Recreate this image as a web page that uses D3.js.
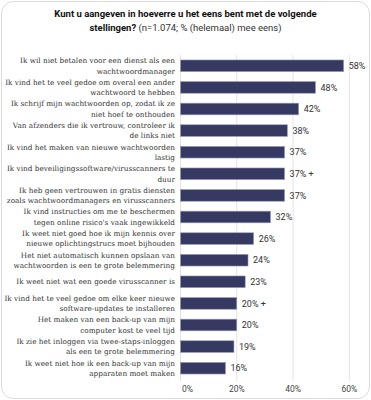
<!DOCTYPE html>
<html>
<head>
<meta charset="utf-8">
<script src="https://cdn.jsdelivr.net/npm/d3@7"></script>
<style>
  body { margin: 0; background: #fff; }
</style>
</head>
<body>
<div id="chart"></div>
<script>
const width = 371
const height = 400

// statements (line breaks as in the original)
const categories = [
    "Ik wil niet betalen voor een dienst als een\nwachtwoordmanager",
    "Ik vind het te veel gedoe om overal een ander\nwachtwoord te hebben",
    "Ik schrijf mijn wachtwoorden op, zodat ik ze\nniet hoef te onthouden",
    "Van afzenders die ik vertrouw, controleer ik\nde links niet",
    "Ik vind het maken van nieuwe wachtwoorden\nlastig",
    "Ik vind beveiligingssoftware/virusscanners te\nduur",
    "Ik heb geen vertrouwen in gratis diensten\nzoals wachtwoordmanagers en virusscanners",
    "Ik vind instructies om me te beschermen\ntegen online risico's vaak ingewikkeld",
    "Ik weet niet goed hoe ik mijn kennis over\nnieuwe oplichtingstrucs moet bijhouden",
    "Het niet automatisch kunnen opslaan van\nwachtwoorden is een te grote belemmering",
    "Ik weet niet wat een goede virusscanner is",
    "Ik vind het te veel gedoe om elke keer nieuwe\nsoftware-updates te installeren",
    "Het maken van een back-up van mijn\ncomputer kost te veel tijd",
    "Ik zie het inloggen via twee-staps-inloggen\nals een te grote belemmering",
    "Ik weet niet hoe ik een back-up van mijn\napparaten moet maken"
]
const values = [58, 48, 42, 38, 37, 37, 37, 32, 26, 24, 23, 20, 20, 19, 16]
const marks = ["", "", "", "", "", "+", "", "", "", "", "", "+", "", "", ""]
const ticks = [0, 20, 40, 60]

const svg = d3.select("#chart")
    .append("svg")
    .attr("width", width)
    .attr("height", height)

// card
svg.append("rect")
    .attr("x", 1.5).attr("y", 1.5)
    .attr("width", width - 3).attr("height", height - 3)
    .attr("rx", 12)
    .attr("fill", "#fff")
    .attr("stroke", "#dcdcdc")

// title
const title = svg.append("text")
    .attr("text-anchor", "middle")
    .attr("font-family", "Roboto, sans-serif")
    .attr("font-size", 9.5)
    .attr("fill", "#111")
title.append("tspan")
    .attr("x", width / 2).attr("y", 17)
    .attr("font-weight", "bold")
    .text("Kunt u aangeven in hoeverre u het eens bent met de volgende")
const t2 = title.append("tspan").attr("x", width / 2).attr("y", 31)
t2.append("tspan").attr("font-weight", "bold").text("stellingen?")
t2.append("tspan").attr("fill", "#333").text(" (n=1.074; % (helemaal) mee eens)")

const x = d3.scaleLinear()
    .domain([0, 60])
    .range([180.5, 349.3])

const y = d3.scaleBand()
    .domain(categories)
    .range([55, 379])
    .paddingInner(0.46)
    .paddingOuter(0.23)

// grid
svg.append("g")
    .selectAll("line")
    .data(ticks)
    .enter()
    .append("line")
    .attr("x1", d => x(d)).attr("x2", d => x(d))
    .attr("y1", 55).attr("y2", 381)
    .attr("stroke", "#e3e3e3")
    .attr("stroke-width", 1)

// tick labels
svg.append("g")
    .selectAll("text")
    .data(ticks)
    .enter()
    .append("text")
    .attr("x", d => d === 0 ? x(d) + 7 : x(d))
    .attr("y", 392)
    .attr("text-anchor", "middle")
    .attr("font-family", "Roboto, sans-serif")
    .attr("font-size", 8.5)
    .attr("fill", "#444")
    .text(d => d + "%")

// bars
svg.append("g")
    .selectAll("rect")
    .data(values)
    .enter()
    .append("rect")
    .attr("x", x(0))
    .attr("y", (d, i) => y(categories[i]))
    .attr("width", d => x(d) - x(0))
    .attr("height", y.bandwidth())
    .attr("fill", "#363a63")
    .attr("stroke", "#9c9eb9")
    .attr("stroke-width", 0.6)

// value labels
svg.append("g")
    .selectAll("text")
    .data(values)
    .enter()
    .append("text")
    .attr("x", d => x(d) + 5)
    .attr("y", (d, i) => y(categories[i]) + y.bandwidth() / 2)
    .attr("dy", "0.35em")
    .attr("font-family", "Roboto, sans-serif")
    .attr("font-size", 9)
    .attr("fill", "#333")
    .text((d, i) => d + "%" + (marks[i] ? " " + marks[i] : ""))

// category labels
const labels = svg.append("g")
    .selectAll("text")
    .data(categories)
    .enter()
    .append("text")
    .attr("text-anchor", "end")
    .attr("font-family", "'DejaVu Serif', serif")
    .attr("font-size", 7.3)
    .attr("fill", "#333")

labels.each(function (d) {
    const lines = d.split("\n")
    const cy = y(d) + y.bandwidth() / 2
    const lh = 10.3
    lines.forEach((line, k) => {
        d3.select(this).append("tspan")
            .attr("x", 175)
            .attr("y", cy + (k - (lines.length - 1) / 2) * lh)
            .attr("dy", "0.35em")
            .text(line)
    })
})
</script>
</body>
</html>
